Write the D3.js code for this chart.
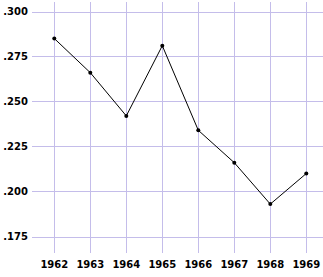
<!DOCTYPE html>
<html>
<head>
<meta charset="utf-8">
<script src="https://cdn.jsdelivr.net/npm/d3@7"></script>
<style>
  body { margin: 0; background: #fff; }
  svg { display: block; }
</style>
</head>
<body>
<script>
// values
const years = ["1962", "1963", "1964", "1965", "1966", "1967", "1968", "1969"];
const values = [0.285, 0.266, 0.242, 0.281, 0.234, 0.216, 0.193, 0.210];
const yTicks = [0.175, 0.200, 0.225, 0.250, 0.275, 0.300];

const width = 323, height = 277;

const svg = d3.select("body").append("svg")
    .attr("width", width)
    .attr("height", height);

const x = d3.scalePoint()
    .domain(years)
    .range([54.3, 306.3]);

const y = d3.scaleLinear()
    .domain([0.175, 0.300])
    .range([236.5, 11.5]);

const gridColor = "#c4bdea";
const fmt = v => d3.format(".3f")(v).replace(/^0/, "");

// horizontal grid + y labels
const yg = svg.append("g");
yg.selectAll("line")
    .data(yTicks)
    .join("line")
    .attr("x1", 32).attr("x2", width)
    .attr("y1", d => Math.round(y(d)) + 0.5)
    .attr("y2", d => Math.round(y(d)) + 0.5)
    .attr("stroke", gridColor)
    .attr("stroke-width", 1);
yg.selectAll("text")
    .data(yTicks)
    .join("text")
    .attr("x", 28)
    .attr("y", d => y(d))
    .attr("dy", "0.35em")
    .attr("text-anchor", "end")
    .text(fmt);

// vertical grid + x labels
const xg = svg.append("g");
xg.selectAll("line")
    .data(years)
    .join("line")
    .attr("x1", d => Math.round(x(d)) + 0.5)
    .attr("x2", d => Math.round(x(d)) + 0.5)
    .attr("y1", 2).attr("y2", 253)
    .attr("stroke", gridColor)
    .attr("stroke-width", 1);
xg.selectAll("text")
    .data(years)
    .join("text")
    .attr("x", d => x(d))
    .attr("y", 268)
    .attr("text-anchor", "middle")
    .text(d => d);

svg.selectAll("text")
    .attr("font-family", "DejaVu Sans")
    .attr("font-weight", "bold")
    .attr("font-size", 10)
    .attr("fill", "#000");

// the series
const pts = years.map((yr, i) => [x(yr), y(values[i])]);
svg.append("path")
    .attr("d", d3.line()(pts))
    .attr("fill", "none")
    .attr("stroke", "#000")
    .attr("stroke-width", 1);

svg.append("g").selectAll("circle")
    .data(pts)
    .join("circle")
    .attr("cx", d => d[0])
    .attr("cy", d => d[1])
    .attr("r", 2)
    .attr("fill", "#000");
</script>
</body>
</html>
